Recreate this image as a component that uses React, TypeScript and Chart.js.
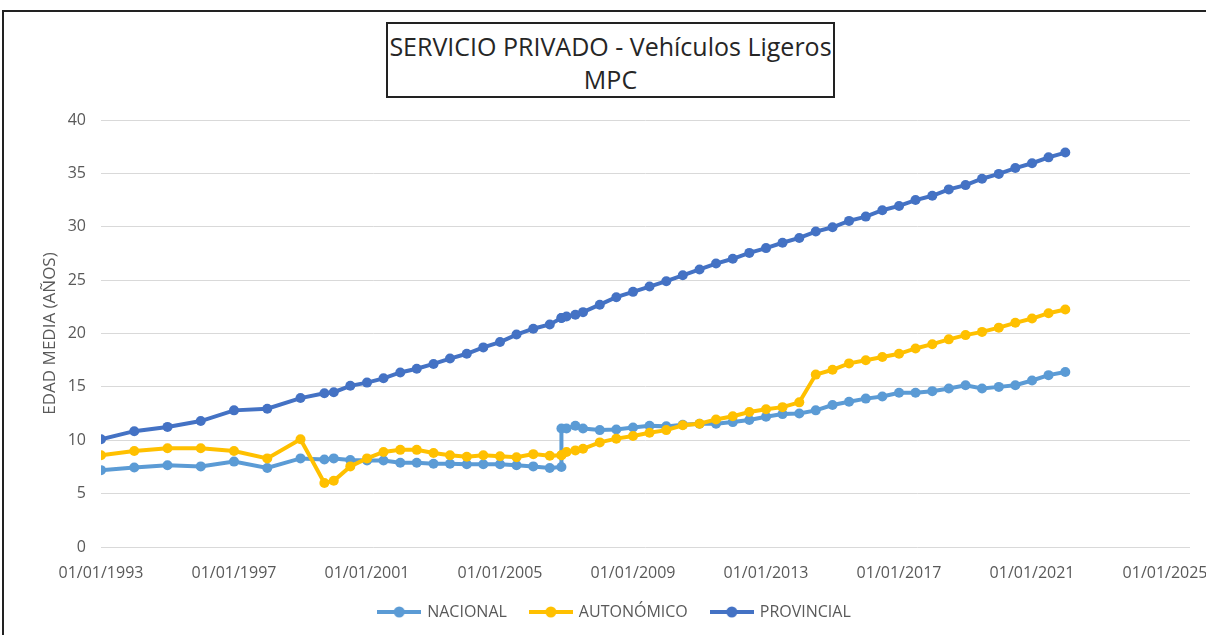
import React, { useEffect, useRef } from "react";
import { Chart, registerables } from "chart.js";

Chart.register(...registerables);

// ---- Data ----
const dates: string[] = [
  "1993-01-01", "1994-01-01", "1995-01-01", "1996-01-01", "1997-01-01", "1998-01-01", "1999-01-01",
  "1999-09-20", "2000-01-01", "2000-07-01", "2001-01-01", "2001-07-01", "2002-01-01", "2002-07-01",
  "2003-01-01", "2003-07-01", "2004-01-01", "2004-07-01", "2005-01-01", "2005-07-01", "2006-01-01",
  "2006-07-01", "2006-11-06", "2006-11-06", "2007-01-01", "2007-04-08", "2007-07-01", "2008-01-01",
  "2008-07-01", "2009-01-01", "2009-07-01", "2010-01-01", "2010-07-01", "2011-01-01", "2011-07-01",
  "2012-01-01", "2012-07-01", "2013-01-01", "2013-07-01", "2014-01-01", "2014-07-01", "2015-01-01",
  "2015-07-01", "2016-01-01", "2016-07-01", "2017-01-01", "2017-07-01", "2018-01-01", "2018-07-01",
  "2019-01-01", "2019-07-01", "2020-01-01", "2020-07-01", "2021-01-01", "2021-07-01", "2022-01-01",
];

const nacional: number[] = [
  7.2, 7.45, 7.65, 7.55, 8.0, 7.4, 8.3,
  8.2, 8.3, 8.15, 8.1, 8.1, 7.9, 7.9,
  7.8, 7.8, 7.75, 7.75, 7.75, 7.65, 7.55,
  7.4, 7.5, 11.1, 11.1, 11.35, 11.1, 10.95,
  11.0, 11.2, 11.35, 11.3, 11.45, 11.55, 11.55,
  11.7, 11.9, 12.2, 12.45, 12.5, 12.8, 13.3,
  13.6, 13.9, 14.1, 14.45, 14.45, 14.6, 14.85,
  15.15, 14.85, 15.0, 15.15, 15.6, 16.1, 16.4,
];

const autonomico: number[] = [
  8.6, 9.0, 9.25, 9.25, 9.0, 8.3, 10.1,
  6.0, 6.2, 7.55, 8.3, 8.9, 9.1, 9.1,
  8.8, 8.6, 8.45, 8.6, 8.5, 8.4, 8.7,
  8.55, 8.6, 8.6, 8.9, 9.05, 9.2, 9.8,
  10.15, 10.4, 10.7, 10.95, 11.4, 11.55, 11.95,
  12.25, 12.65, 12.9, 13.1, 13.55, 16.15, 16.6,
  17.2, 17.5, 17.8, 18.1, 18.6, 19.0, 19.45,
  19.85, 20.15, 20.55, 21.0, 21.4, 21.9, 22.25,
];

const provincial: number[] = [
  10.1, 10.85, 11.25, 11.8, 12.8, 12.95, 13.95,
  14.4, 14.5, 15.1, 15.4, 15.8, 16.35, 16.7,
  17.15, 17.65, 18.1, 18.7, 19.2, 19.9, 20.45,
  20.85, 21.45, 21.45, 21.6, 21.75, 22.0, 22.7,
  23.4, 23.9, 24.4, 24.9, 25.45, 26.0, 26.55,
  27.0, 27.55, 28.0, 28.5, 28.95, 29.55, 29.95,
  30.55, 30.95, 31.55, 31.95, 32.5, 32.9, 33.5,
  33.9, 34.5, 34.95, 35.5, 35.95, 36.5, 36.95,
];

const seriesNames: string[] = ["NACIONAL", "AUTONÓMICO", "PROVINCIAL"];
const seriesColors: string[] = ["#5B9BD5", "#FFC000", "#4472C4"];
const xTickYears: number[] = [1993, 1997, 2001, 2005, 2009, 2013, 2017, 2021, 2025];
const titleLines: string[] = ["SERVICIO PRIVADO - Vehículos Ligeros", "MPC"];
const yAxisTitle = "EDAD MEDIA (AÑOS)";

const FONT = "'Open Sans', 'Liberation Sans', sans-serif";

function toYear(d: string): number {
  const [y, m, day] = d.split("-").map(Number);
  const start = Date.UTC(y, 0, 1);
  const end = Date.UTC(y + 1, 0, 1);
  return y + (Date.UTC(y, m - 1, day) - start) / (end - start);
}

function legendImage(color: string): HTMLCanvasElement {
  const c = document.createElement("canvas");
  c.width = 44;
  c.height = 12;
  const ctx = c.getContext("2d")!;
  ctx.strokeStyle = color;
  ctx.lineWidth = 4;
  ctx.beginPath();
  ctx.moveTo(0, 6);
  ctx.lineTo(44, 6);
  ctx.stroke();
  ctx.fillStyle = color;
  ctx.beginPath();
  ctx.arc(22, 6, 5.5, 0, Math.PI * 2);
  ctx.fill();
  return c;
}

export default function App() {
  const canvasRef = useRef<HTMLCanvasElement | null>(null);

  useEffect(() => {
    const xs = dates.map(toYear);
    const series = [nacional, autonomico, provincial];
    const built = series.map((vals, i) => ({
      label: seriesNames[i],
      data: vals.map((v, k) => ({ x: xs[k], y: v })),
      borderColor: seriesColors[i],
      backgroundColor: seriesColors[i],
      borderWidth: 4,
      pointRadius: 5,
      pointHoverRadius: 5,
      pointBorderWidth: 0,
      pointBackgroundColor: seriesColors[i],
      tension: 0,
      fill: false,
    }));
    const images = seriesColors.map(legendImage);
    // draw PROVINCIAL on top: reverse dataset order, reverse legend
    const datasets = built.slice().reverse();
    const imgByLabel: Record<string, HTMLCanvasElement> = {};
    seriesNames.forEach((n, i) => (imgByLabel[n] = images[i]));

    const chart = new Chart(canvasRef.current!, {
      type: "line",
      data: { datasets },
      options: {
        animation: false,
        responsive: false,
        parsing: false as any,
        normalized: true,
        layout: { padding: { top: 120, right: 16, bottom: 5, left: 40 } },
        plugins: {
          title: { display: false },
          tooltip: { enabled: false },
          legend: {
            position: "bottom",
            reverse: true,
            labels: {
              usePointStyle: true,
              pointStyleWidth: 40,
              padding: 24,
              color: "#595959",
              font: { family: FONT, size: 16 },
              generateLabels: (ch: any) => {
                const items = (Chart.defaults.plugins.legend.labels as any).generateLabels(ch);
                return items.map((it: any) => ({ ...it, pointStyle: imgByLabel[it.text] }));
              },
            },
          },
        },
        scales: {
          x: {
            type: "linear",
            min: 1993,
            max: 2025.75,
            grid: { display: false },
            border: { display: false },
            ticks: {
              padding: 9,
              color: "#595959",
              font: { family: FONT, size: 16 },
              autoSkip: false,
              maxRotation: 0,
              callback: (v: any) => "01/01/" + v,
            },
            afterBuildTicks: (scale: any) => {
              scale.ticks = xTickYears.map((v) => ({ value: v }));
            },
            afterFit: (scale: any) => {
              scale.paddingLeft = 0;
              scale.paddingRight = 0;
              scale.height = 33;
            },
          },
          y: {
            min: 0,
            max: 40,
            grid: { color: "#D9D9D9", drawTicks: false, lineWidth: 1 },
            border: { display: false },
            ticks: {
              stepSize: 5,
              padding: 15,
              color: "#595959",
              font: { family: FONT, size: 16 },
            },
            title: {
              display: true,
              text: yAxisTitle,
              color: "#595959",
              font: { family: FONT, size: 17 },
              padding: { top: 0, bottom: 0 },
            },
            afterFit: (scale: any) => {
              scale.width = 61;
              scale.paddingTop = 0;
              scale.paddingBottom = 0;
            },
          },
        },
      },
    } as any);
    return () => chart.destroy();
  }, []);

  return (
    <div
      style={{
        position: "absolute",
        left: 0,
        top: 0,
        width: 1206,
        height: 635,
        overflow: "hidden",
        background: "#fff",
      }}
    >
      <canvas
        ref={canvasRef}
        width={1206}
        height={635}
        style={{ position: "absolute", left: 0, top: 0, width: 1206, height: 635 }}
      />
      <div
        style={{
          position: "absolute",
          left: 2,
          top: 10,
          width: 1300,
          height: 700,
          border: "2px solid #222",
          boxSizing: "border-box",
          pointerEvents: "none",
        }}
      />
      <div
        style={{
          position: "absolute",
          left: 386,
          top: 22,
          width: 449,
          height: 76,
          border: "2px solid #222",
          boxSizing: "border-box",
          background: "#fff",
          fontFamily: FONT,
          fontSize: 25,
          lineHeight: "33px",
          color: "#262626",
          textAlign: "center",
          paddingTop: 6,
          whiteSpace: "nowrap",
        }}
      >
        <div>{titleLines[0]}</div>
        <div>{titleLines[1]}</div>
      </div>
    </div>
  );
}
